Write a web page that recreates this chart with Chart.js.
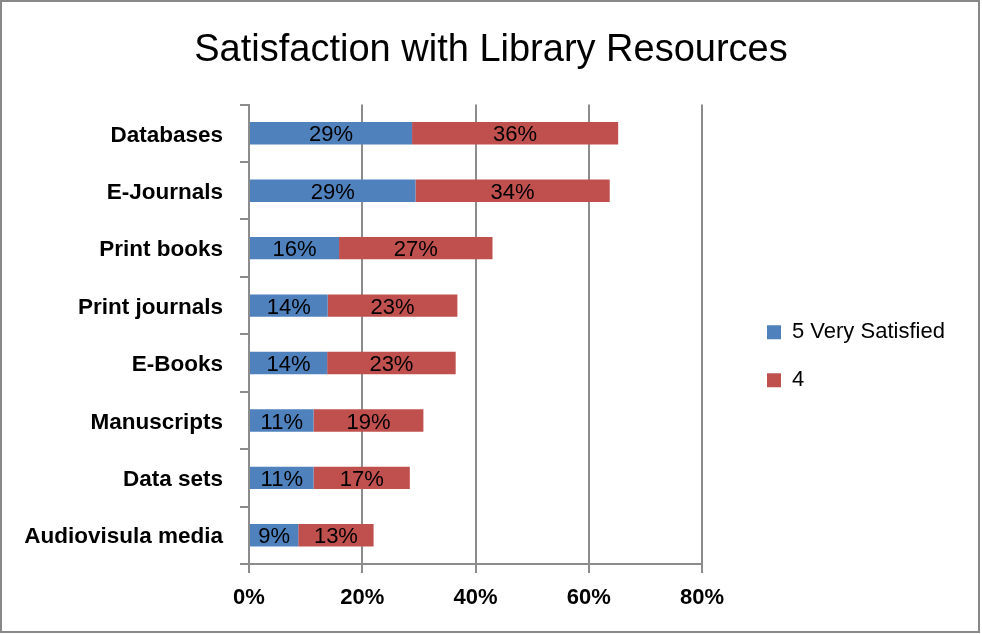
<!DOCTYPE html>
<html>
<head>
<meta charset="utf-8">
<script src="https://cdn.jsdelivr.net/npm/chart.js@4"></script>
<style>
  html, body { margin: 0; padding: 0; background: #fff; }
  #wrap { width: 982px; height: 634px; position: relative; }
</style>
</head>
<body>
<div id="wrap"><canvas id="c" width="982" height="634"></canvas></div>
<script>
// ---- data ----
const categories = ["Databases", "E-Journals", "Print books", "Print journals", "E-Books", "Manuscripts", "Data sets", "Audiovisula media"];
const verySatisfied = [28.8, 29.4, 15.9, 13.9, 13.8, 11.4, 11.4, 8.7];
const satisfied4 = [36.4, 34.3, 27.1, 22.9, 22.7, 19.4, 17.0, 13.3];
const seriesNames = ["5 Very Satisfied", "4"];
const xTicks = [0, 20, 40, 60, 80];
const titleText = "Satisfaction with Library Resources";

const FONT = "'Liberation Sans', Arial, sans-serif";
const GRID = "#8c8c8c";

const borderPlugin = {
  id: 'frame',
  beforeDraw(chart) {
    const ctx = chart.ctx;
    ctx.save();
    ctx.fillStyle = '#fff';
    ctx.fillRect(0, 0, chart.width, chart.height);
    ctx.restore();
  },
  afterDraw(chart) {
    const ctx = chart.ctx;
    ctx.save();
    ctx.strokeStyle = '#888';
    ctx.lineWidth = 2;
    ctx.strokeRect(1, 1, chart.width - 4, chart.height - 3);
    ctx.restore();
  }
};

const labelPlugin = {
  id: 'barLabels',
  afterDatasetsDraw(chart) {
    const ctx = chart.ctx;
    ctx.save();
    ctx.font = "22px " + FONT;
    ctx.fillStyle = '#000';
    ctx.textAlign = 'center';
    ctx.textBaseline = 'middle';
    chart.data.datasets.forEach((ds, di) => {
      const meta = chart.getDatasetMeta(di);
      meta.data.forEach((bar, i) => {
        const cx = (bar.x + bar.base) / 2;
        ctx.fillText(Math.round(ds.data[i]) + '%', cx, bar.y + 2);
      });
    });
    ctx.restore();
  }
};

// reserve a fixed-width legend column and place its items
const legendPlace = {
  id: 'legendPlace',
  afterInit(chart) {
    const lg = chart.legend;
    if (!lg) return;
    const origFit = lg.fit;
    lg.fit = function () {
      origFit.call(this);
      this.width = 280;
    };
  },
  afterLayout(chart) {
    const lg = chart.legend;
    if (!lg) return;
    const dx = 741 - lg.left;
    lg.left += dx; lg.right += dx;
    lg.top += 22; lg.bottom += 22;
  }
};

new Chart(document.getElementById('c'), {
  type: 'bar',
  data: {
    labels: categories,
    datasets: [
      { label: seriesNames[0], data: verySatisfied, backgroundColor: '#4F81BD', borderWidth: 0 },
      { label: seriesNames[1], data: satisfied4, backgroundColor: '#C0504D', borderWidth: 0 }
    ]
  },
  options: {
    indexAxis: 'y',
    responsive: false,
    animation: false,
    devicePixelRatio: 1,
    layout: { padding: { top: 0, left: 0, right: 0, bottom: 0 } },
    datasets: { bar: { barPercentage: 0.39, categoryPercentage: 1 } },
    scales: {
      x: {
        stacked: true,
        min: 0, max: 80,
        afterBuildTicks(scale) { scale.ticks = xTicks.map(v => ({ value: v })); },
        ticks: {
          callback: v => v + '%',
          font: { family: FONT, size: 22, weight: 'bold' },
          color: '#000',
          padding: 12,
          maxRotation: 0
        },
        grid: { color: GRID, lineWidth: 2, tickLength: 9, drawTicks: true },
        border: { color: GRID, width: 2 },
        afterFit(scale) { scale.height = 70; }
      },
      y: {
        stacked: true,
        ticks: {
          font: { family: FONT, size: 22.5, weight: 'bold' },
          color: '#000',
          padding: 17,
          labelOffset: 2
        },
        grid: { drawOnChartArea: false, drawTicks: true, tickLength: 9, color: GRID, lineWidth: 2, offset: true },
        border: { color: GRID, width: 2 },
        afterFit(scale) { scale.width = 249; }
      }
    },
    plugins: {
      title: {
        display: true,
        text: titleText,
        color: '#000',
        font: { family: FONT, size: 38, weight: 'normal' },
        padding: { top: 28, bottom: 31 }
      },
      legend: {
        position: 'right',
        fullSize: false,
        labels: {
          font: { family: FONT, size: 22 },
          color: '#000',
          boxWidth: 14,
          boxHeight: 14,
          padding: 26
        }
      },
      tooltip: { enabled: false }
    }
  },
  plugins: [borderPlugin, labelPlugin, legendPlace]
});
</script>
</body>
</html>
